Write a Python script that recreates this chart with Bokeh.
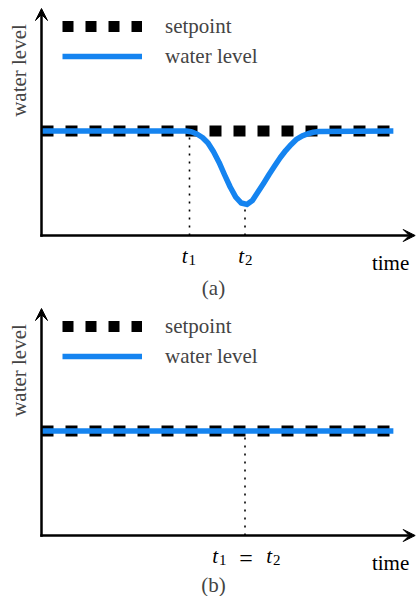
from math import pi
from bokeh.plotting import figure
from bokeh.models import Range1d, Arrow, VeeHead, Label, Legend, LegendItem
from bokeh.layouts import column
from bokeh.embed import file_html
from bokeh.resources import INLINE
from bokeh.core.properties import value

# ---------------- data ----------------
# panel (a): water level dips after t1, minimum at t2, then recovers
time_a = [0.0, 3.9, 4.05, 4.2, 4.35, 4.5, 4.65, 4.8, 4.95, 5.1, 5.25, 5.4, 5.55,
          5.7, 5.85, 6.0, 6.15, 6.3, 6.45, 6.6, 6.75, 6.9, 7.05, 7.2, 7.35, 7.5, 9.51]
level_a = [1.0, 1.0, 0.993, 0.971, 0.938, 0.885, 0.801, 0.699, 0.579, 0.464, 0.368,
           0.311, 0.297, 0.335, 0.416, 0.498, 0.584, 0.665, 0.744, 0.813, 0.871,
           0.923, 0.954, 0.974, 0.988, 0.995, 1.0]
# panel (b): water level stays on the setpoint
time_b = [0.0, 9.51]
level_b = [1.0, 1.0]
# setpoint (both panels)
setpoint_time = [0.0, 9.51]
setpoint_level = [1.0, 1.0]
# event times
t1_a = 4.0
t2_a = 5.5
min_level_a = 0.297
t12_b = 5.5
# axis extents
axis_end_time = 10.1
axis_top_level = 2.172

FONT = value("Liberation Serif")
BLUE = "#1584f0"
W = 417


def make_panel(wt, wl, caption, H, y_bottom, caption_base):
    p = figure(width=W, height=H, x_range=Range1d(-41 / 37, 376 / 37),
               y_range=Range1d(y_bottom, 235 / 104.5), min_border=0,
               x_axis_location=None, y_axis_location=None,
               toolbar_location=None, output_backend="svg")
    p.xgrid.visible = False
    p.ygrid.visible = False
    p.outline_line_color = None
    p.background_fill_color = "white"

    # axes with arrow heads
    p.add_layout(Arrow(x_start=0, y_start=0, x_end=axis_end_time, y_end=0,
                       line_width=2.5, line_color="black", line_cap="square",
                       end=VeeHead(size=12, fill_color="black", line_color="black", line_width=1)))
    p.add_layout(Arrow(x_start=0, y_start=0, x_end=0, y_end=axis_top_level,
                       line_width=2.5, line_color="black", line_cap="square",
                       end=VeeHead(size=12, fill_color="black", line_color="black", line_width=1)))

    # setpoint and water level
    p.line(setpoint_time, setpoint_level, line_color="black", line_width=11,
           line_dash="12 12", line_cap="butt")
    p.line(wt, wl, line_color=BLUE, line_width=5.5, line_join="round")

    # legend samples (hidden in the plot, drawn only in the legend)
    r_sp = p.line(setpoint_time, setpoint_level, line_color="black", line_width=11,
                  line_dash="11 12", line_cap="butt", visible=False)
    r_wl = p.line(wt, wl, line_color=BLUE, line_width=5.5, visible=False)
    leg = Legend(items=[LegendItem(label="setpoint", renderers=[r_sp]),
                        LegendItem(label="water level", renderers=[r_wl])],
                 location=(62, H - 68.5), glyph_width=80, glyph_height=24, label_height=24,
                 label_standoff=23, spacing=5, padding=0, margin=0,
                 border_line_color=None, background_fill_alpha=0,
                 label_text_font="Liberation Serif", label_text_font_size="21px")
    p.add_layout(leg)

    # axis titles
    p.add_layout(Label(x=18, y=H - 70, x_units="screen", y_units="screen",
                       text="water level", angle=pi / 2, text_align="center",
                       text_baseline="alphabetic", text_font="Liberation Serif",
                       text_font_size="21px"))
    p.text(x=[axis_end_time], y=[0], text=["time"], text_font=FONT, text_font_size="21px",
           text_align="right", text_baseline="alphabetic", x_offset=-6, y_offset=27)
    # caption
    p.add_layout(Label(x=213, y=H - caption_base, x_units="screen", y_units="screen",
                       text=caption, text_align="center", text_baseline="alphabetic",
                       text_font="Liberation Serif", text_font_size="21px"))
    return p


def t_label(p, x, sub, dx):
    p.text(x=[x], y=[0], text=["t"], text_font=FONT, text_font_style="italic",
           text_font_size="21px", text_align="right", text_baseline="alphabetic",
           x_offset=dx, y_offset=20)
    p.text(x=[x], y=[0], text=[sub], text_font=FONT, text_font_size="15px",
           text_align="left", text_baseline="alphabetic", x_offset=dx + 1, y_offset=24)


# ---------------- panel (a) ----------------
pa = make_panel(time_a, level_a, "(a)", 300, -65 / 104.5, 287)
pa.segment(x0=[t1_a, t2_a], y0=[0, 0], x1=[t1_a, t2_a], y1=[1.0, min_level_a],
           line_color="black", line_width=1.6, line_dash="2 6", level="underlay")
t_label(pa, t1_a, "1", -2)
t_label(pa, t2_a, "2", -1)

# ---------------- panel (b) ----------------
pb = make_panel(time_b, level_b, "(b)", 296, -61 / 104.5, 284)
pb.segment(x0=[t12_b], y0=[0], x1=[t12_b], y1=[1.0],
           line_color="black", line_width=1.6, line_dash="2 6", level="underlay")
t_label(pb, t12_b, "1", -27)
pb.text(x=[t12_b], y=[0], text=["="], text_font=FONT, text_font_size="24px",
        text_align="center", text_baseline="alphabetic", x_offset=1, y_offset=22)
t_label(pb, t12_b, "2", 27)

layout = column(pa, pb, spacing=0)
open("out.html", "w").write(file_html(layout, INLINE))
